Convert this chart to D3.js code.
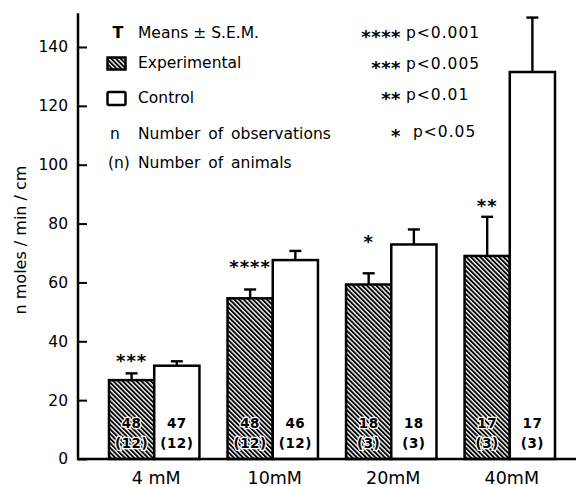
<!DOCTYPE html>
<html>
<head>
<meta charset="utf-8">
<script src="https://cdn.jsdelivr.net/npm/d3@7/dist/d3.min.js"></script>
<style>
  html, body { margin: 0; padding: 0; background: #fff; }
  svg { display: block; }
  text { font-family: "DejaVu Sans", sans-serif; fill: #000; }
</style>
</head>
<body>
<svg id="chart" width="576" height="487"></svg>
<script>
// ---- data ----
const categories = ["4 mM", "10mM", "20mM", "40mM"];
const expMeans = [26.8, 54.6, 59.3, 69.0];
const expSEM = [2.3, 3.0, 3.8, 13.3];
const ctrlMeans = [31.7, 67.6, 72.9, 131.5];
const ctrlSEM = [1.5, 3.1, 5.1, 18.5];
const expN = [48, 48, 18, 17];
const expAnimals = [12, 12, 3, 3];
const ctrlN = [47, 46, 18, 17];
const ctrlAnimals = [12, 12, 3, 3];
const sigStars = ["***", "****", "*", "**"];
const sigLevel = [34.8, 66.9, 75.4, 87.4];
const yTicks = [0, 20, 40, 60, 80, 100, 120, 140];
const sigLegend = [
  {stars: "****", label: "p<0.001"},
  {stars: "***", label: "p<0.005"},
  {stars: "**", label: "p<0.01"},
  {stars: "*", label: "p<0.05"}
];

// ---- layout ----
const svg = d3.select("#chart");
const axisX = 78;
const y = d3.scaleLinear().domain([0, 140]).range([459, 47]);
const yAxisTopValue = 151.5;
const x = d3.scaleBand().domain(categories).range([109, 555]).paddingInner(0.237).paddingOuter(0);
const x1 = d3.scaleBand().domain(["exp", "ctrl"]).range([0, x.bandwidth()]);

const defs = svg.append("defs");
const P = 3.3;
const pat = defs.append("pattern")
  .attr("id", "hatch")
  .attr("patternUnits", "userSpaceOnUse")
  .attr("width", P).attr("height", P)
  .attr("patternTransform", "rotate(-45)");
pat.append("rect").attr("width", P).attr("height", P).attr("fill", "#fff");
pat.append("rect").attr("x", 0).attr("width", 1.9).attr("height", P).attr("fill", "#000");

const rows = categories.map((c, i) => ({
  cat: c,
  bars: [
    {key: "exp", v: expMeans[i], e: expSEM[i], n: expN[i], a: expAnimals[i]},
    {key: "ctrl", v: ctrlMeans[i], e: ctrlSEM[i], n: ctrlN[i], a: ctrlAnimals[i]}
  ],
  stars: sigStars[i],
  sig: sigLevel[i]
}));

// y axis
const yAxis = d3.axisLeft(y).tickValues(yTicks).tickSizeInner(-9).tickSizeOuter(0).tickPadding(10);
const gy = svg.append("g").attr("transform", `translate(${axisX},0)`).call(yAxis);
gy.select(".domain").remove();
gy.selectAll(".tick line").attr("stroke", "#000").attr("stroke-width", 2);
gy.selectAll(".tick text").attr("font-size", 15.5).attr("font-family", "DejaVu Sans").attr("fill", "#000");
svg.append("line")
  .attr("x1", axisX).attr("x2", axisX)
  .attr("y1", y(0) + 1.2).attr("y2", y(yAxisTopValue))
  .attr("stroke", "#000").attr("stroke-width", 2.5);

// bars
const groups = svg.selectAll("g.grp").data(rows).enter().append("g")
  .attr("class", "grp")
  .attr("transform", d => `translate(${x(d.cat)},0)`);

groups.selectAll("g.err").data(d => d.bars).enter().append("g").attr("class", "err")
  .each(function(b) {
    const g = d3.select(this);
    const cx = x1(b.key) + x1.bandwidth() / 2;
    g.append("line").attr("x1", cx).attr("x2", cx)
      .attr("y1", y(b.v)).attr("y2", y(b.v + b.e))
      .attr("stroke", "#000").attr("stroke-width", 2.4);
    g.append("line").attr("x1", cx - 6).attr("x2", cx + 6)
      .attr("y1", y(b.v + b.e)).attr("y2", y(b.v + b.e))
      .attr("stroke", "#000").attr("stroke-width", 2.4);
  });

groups.selectAll("rect.bar").data(d => d.bars).enter().append("rect")
  .attr("class", "bar")
  .attr("x", b => x1(b.key))
  .attr("width", x1.bandwidth())
  .attr("y", b => y(b.v))
  .attr("height", b => y(0) - y(b.v))
  .attr("fill", b => b.key === "exp" ? "url(#hatch)" : "#fff")
  .attr("stroke", "#000").attr("stroke-width", 2.5);

// n labels inside bars
groups.selectAll("g.nl").data(d => d.bars).enter().append("g").attr("class", "nl")
  .each(function(b) {
    const g = d3.select(this);
    const cx = x1(b.key) + x1.bandwidth() / 2;
    const halo = b.key === "exp";
    [[String(b.n), 428], [`(${b.a})`, 447.5]].forEach(([t, yy]) => {
      g.append("text").attr("x", cx).attr("y", yy)
        .attr("text-anchor", "middle")
        .attr("font-size", 13.5).attr("font-weight", "bold")
        .attr("letter-spacing", 0.5)
        .attr("stroke", halo ? "#fff" : "none")
        .attr("stroke-width", halo ? 2.6 : 0)
        .attr("paint-order", "stroke")
        .text(t);
    });
  });

// significance stars
groups.append("text")
  .attr("x", d => x1("exp") + x1.bandwidth() / 2)
  .attr("y", d => y(d.sig) + 10.5)
  .attr("text-anchor", "middle")
  .attr("font-size", 18).attr("font-weight", "bold")
  .attr("letter-spacing", 1)
  .text(d => d.stars);

// baseline
svg.append("line")
  .attr("x1", axisX).attr("x2", 576)
  .attr("y1", y(0)).attr("y2", y(0))
  .attr("stroke", "#000").attr("stroke-width", 2.5);

// x labels
svg.selectAll("text.xl").data(categories).enter().append("text")
  .attr("class", "xl")
  .attr("x", d => x(d) + x.bandwidth() / 2 + 2)
  .attr("y", 484)
  .attr("text-anchor", "middle")
  .attr("font-size", 17.5)
  .text(d => d);

// y label
svg.append("text")
  .attr("transform", "translate(26,240) rotate(-90)")
  .attr("text-anchor", "middle")
  .attr("font-size", 16)
  .text("n moles / min / cm");

// legend (left)
svg.append("text").attr("x", 118).attr("y", 38).attr("text-anchor", "middle")
  .attr("font-size", 16).attr("font-weight", "bold").text("T");
svg.append("text").attr("x", 138).attr("y", 38).attr("font-size", 15.5).text("Means ± S.E.M.");
svg.append("rect").attr("x", 107.5).attr("y", 57.5).attr("width", 18).attr("height", 12)
  .attr("fill", "url(#hatch)").attr("stroke", "#000").attr("stroke-width", 2.5);
svg.append("text").attr("x", 138).attr("y", 68).attr("font-size", 15.5).text("Experimental");
svg.append("rect").attr("x", 107.5).attr("y", 92).attr("width", 18).attr("height", 13).attr("rx", 1.5)
  .attr("fill", "#fff").attr("stroke", "#000").attr("stroke-width", 2.5);
svg.append("text").attr("x", 138).attr("y", 103).attr("font-size", 15.5).text("Control");
svg.append("text").attr("x", 115).attr("y", 139).attr("text-anchor", "middle").attr("font-size", 15.5).text("n");
svg.append("text").attr("x", 138).attr("y", 139).attr("font-size", 15.5).attr("word-spacing", 3).text("Number of observations");
svg.append("text").attr("x", 108).attr("y", 168).attr("font-size", 15.5).text("(n)");
svg.append("text").attr("x", 138).attr("y", 168).attr("font-size", 15.5).attr("word-spacing", 3).text("Number of animals");

// legend (right)
const sigY = [32, 63, 94, 131];
const sigX = [406, 406, 406, 413];
sigLegend.forEach((s, i) => {
  svg.append("text").attr("x", 401).attr("y", sigY[i] + 10.5).attr("text-anchor", "end")
    .attr("font-size", 18).attr("font-weight", "bold").attr("letter-spacing", 0.5).text(s.stars);
  svg.append("text").attr("x", sigX[i]).attr("y", sigY[i] + 5.5)
    .attr("font-size", 15.5).attr("letter-spacing", 1).text(s.label);
});
</script>
</body>
</html>
